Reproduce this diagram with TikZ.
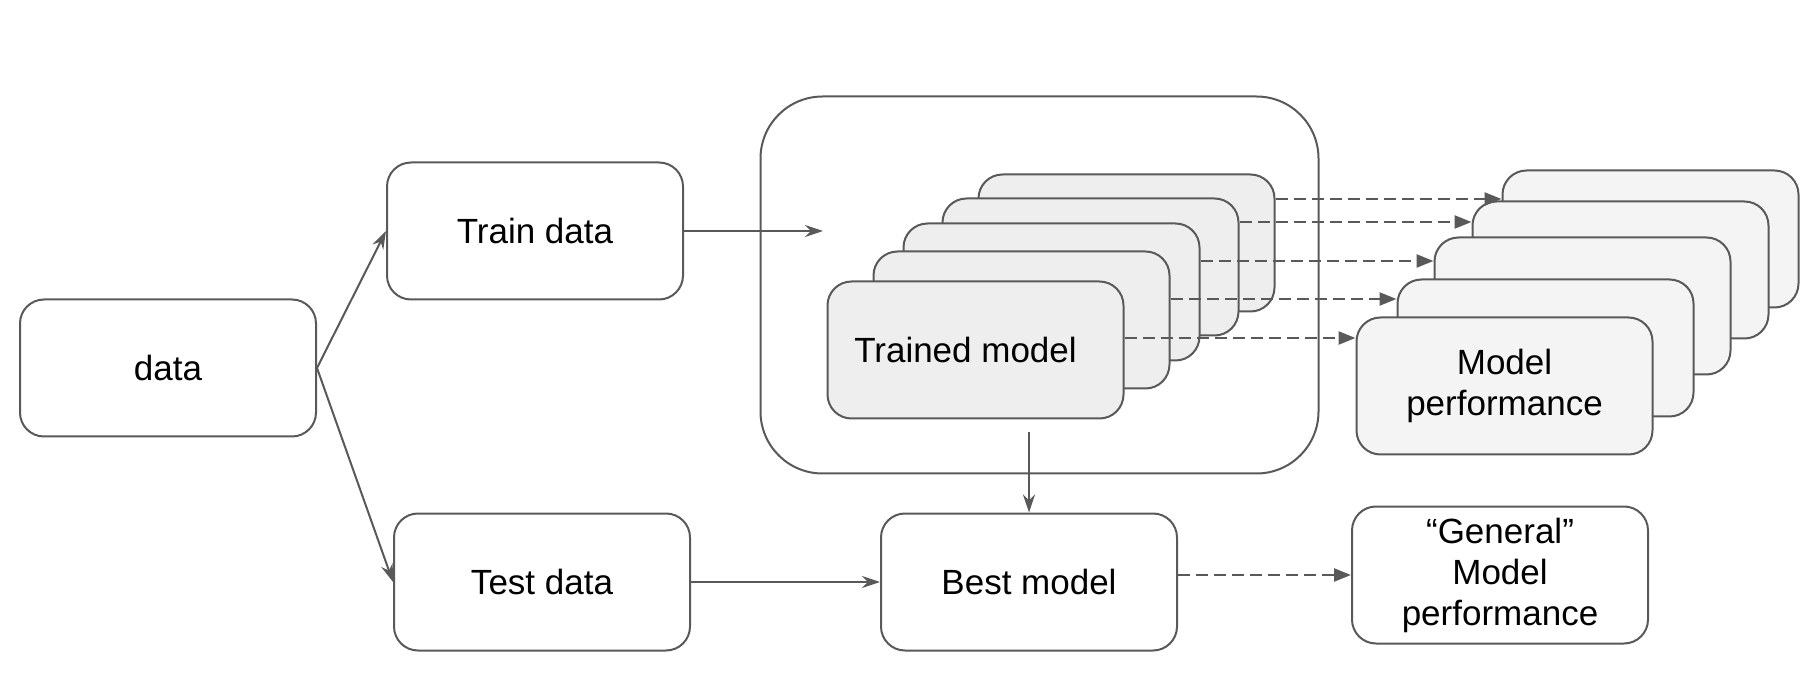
\documentclass[tikz,border=0pt]{standalone}
\usepackage{fontspec}
\setmainfont{Liberation Sans}
\usetikzlibrary{arrows.meta}
\definecolor{edgegray}{HTML}{595959}
\tikzset{
x=1pt, y=-1pt, % one unit is one pixel of the reference, y runs downwards
box/.style={draw=edgegray, line width=2pt, rounded corners=24pt, minimum width=296pt, minimum height=137pt, align=center, font=\fontsize{35}{41}\selectfont}, % the plain white boxes
model/.style={box, fill=gray!13}, % the stacked trained models
perf/.style={box, fill=gray!9}, % the stacked performance boxes
arrow/.style={draw=edgegray, line width=2pt, -{Stealth[length=18pt,width=12pt,inset=6pt]}}, % solid connectors
dasharrow/.style={draw=edgegray, line width=2.4pt, dash pattern=on 12pt off 6pt, -{Triangle[length=17pt,width=13pt]}}, % dashed connectors
}
\begin{document}
\begin{tikzpicture}
    \useasboundingbox (0,0) rectangle (1816,684);
    \node[box] (data) at (168,368) {data};
    \node[box] (train) at (535,231) {Train data};
    \node[box] (test) at (542,582) {Test data};
    \node[box] (best) at (1029,582) {Best model};
    \node[box] (general) at (1500,575) {“General”\\Model\\performance};
    \node[draw=edgegray, line width=2pt, rounded corners=62pt, minimum width=558pt, minimum height=377pt] (pool) at (1039.5,285) {};
    % trained models, back to front
    \node[model] (m5) at (1126.5,243) {};
    \node[model] (m4) at (1090.5,267) {};
    \node[model] (m3) at (1051.5,292) {};
    \node[model] (m2) at (1021.5,320) {};
    \node[model] (m1) at (975.5,350) {\hspace*{-20pt}Trained model};
    % performances, back to front
    \node[perf] (p5) at (1650.5,239) {};
    \node[perf] (p4) at (1620.5,270) {};
    \node[perf] (p3) at (1582.5,306) {};
    \node[perf] (p2) at (1545.5,348) {};
    \node[perf] (p1) at (1504.5,386) {Model\\performance};
    \coordinate (entry) at (823,231);
    \coordinate (drop) at (1029,432);
    \draw[arrow] (data.east) -- (train.west);
    \draw[arrow] (data.east) -- (test.west);
    \draw[arrow] (train.east) -- (entry);
    \draw[arrow] (test.east) -- (best.west);
    \draw[arrow] (drop) -- (best.north);
    \draw[dasharrow] (m5.east |- 0,199) -- (p5.west |- 0,199);
    \draw[dasharrow] (m4.east |- 0,222) -- (p4.west |- 0,222);
    \draw[dasharrow] (m3.east |- 0,261) -- (p3.west |- 0,261);
    \draw[dasharrow] (m2.east |- 0,299) -- (p2.west |- 0,299);
    \draw[dasharrow] (m1.east |- 0,338) -- (p1.west |- 0,338);
    \draw[dasharrow] (best.east |- general.west) -- (general.west);
\end{tikzpicture}
\end{document}
